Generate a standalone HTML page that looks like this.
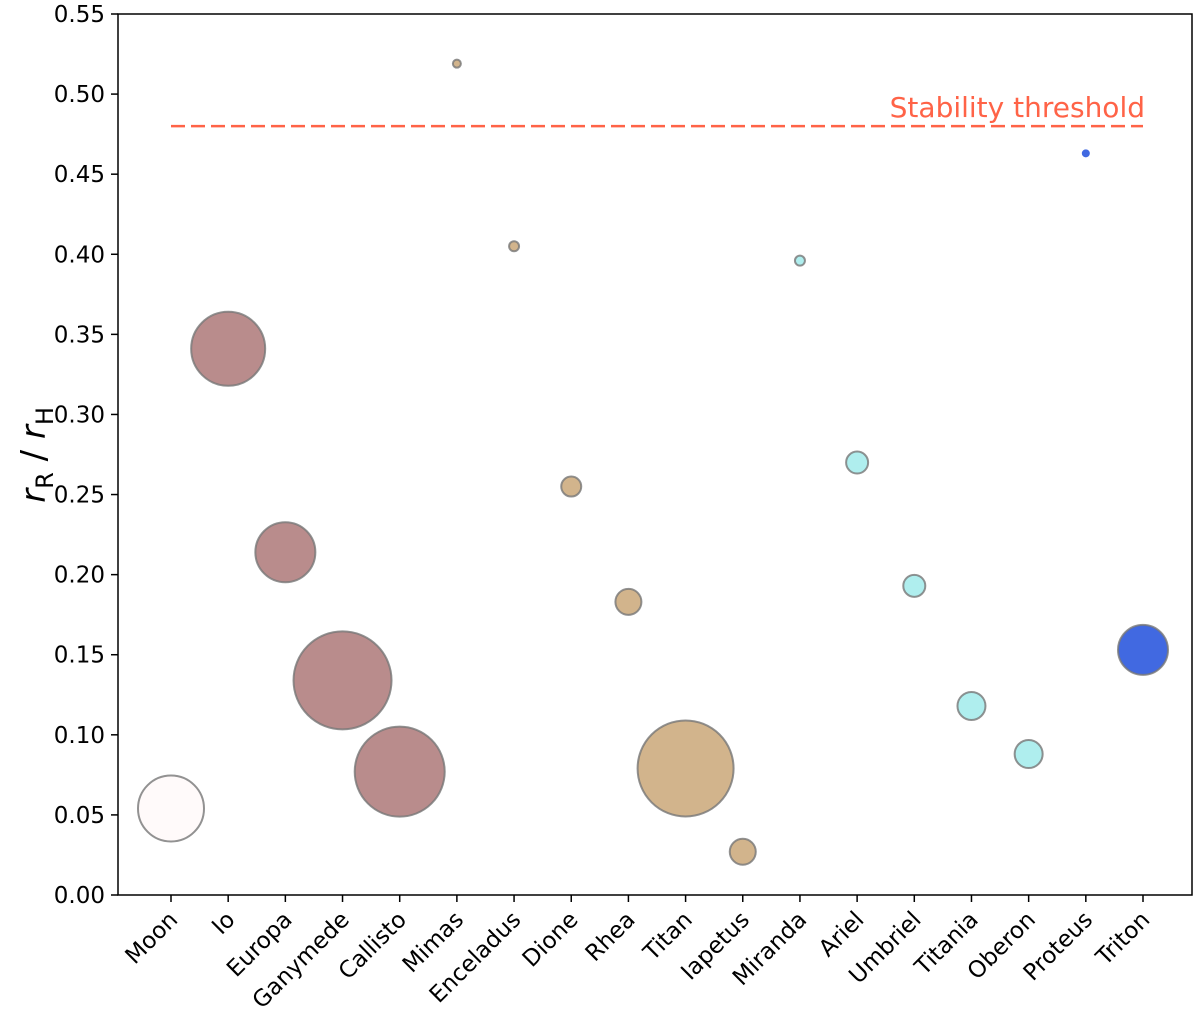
<!DOCTYPE html>
<html><head><meta charset="utf-8"><style>
body{margin:0;background:#fff;}
svg{display:block;font-family:"DejaVu Sans","Liberation Sans",sans-serif;}
</style></head><body>
<svg id="chart" width="1200" height="1020" viewBox="0 0 1200 1020" xmlns="http://www.w3.org/2000/svg"></svg>
<script>
const categories=["Moon","Io","Europa","Ganymede","Callisto","Mimas","Enceladus","Dione","Rhea","Titan","Iapetus","Miranda","Ariel","Umbriel","Titania","Oberon","Proteus","Triton"];
const ratios=[0.054,0.341,0.214,0.134,0.077,0.519,0.405,0.255,0.183,0.079,0.027,0.396,0.270,0.193,0.118,0.088,0.463,0.153];
const sizes=[33,37,30,49,45,4,5,10,13,48,13,5,11,11,14,14,4,25];
const groups=["earth","jupiter","jupiter","jupiter","jupiter","saturn","saturn","saturn","saturn","saturn","saturn","uranus","uranus","uranus","uranus","uranus","neptune","neptune"];
const yTicks=[0,0.05,0.1,0.15,0.2,0.25,0.3,0.35,0.4,0.45,0.5,0.55];
const threshold=0.48;
const colors={earth:"#fffafa",jupiter:"#b98c8c",saturn:"#d2b48c",uranus:"#afeeee",neptune:"#4169e1"};
const L=118,R=1192,T=14,B=895;
const x=i=>171+i*(1143-171)/(categories.length-1);
const y=v=>B-(v-0)/(0.55-0)*(B-T);
const svg=document.getElementById('chart');
const NS="http://www.w3.org/2000/svg";
function mk(t,a,p){const e=document.createElementNS(NS,t);for(const k in a)e.setAttribute(k,a[k]);(p||svg).appendChild(e);return e;}
const frame=mk('rect',{x:L,y:T,width:R-L,height:B-T,fill:'none',stroke:'#000','stroke-width':1.5});


yTicks.forEach(v=>{
  const t=mk('line',{x1:L-7,x2:L,y1:y(v),y2:y(v),stroke:'#000','stroke-width':1.5});
  
  
  const l=mk('text',{x:L-13,y:y(v)+8,'text-anchor':'end','font-size':23});
  l.textContent=v.toFixed(2);
  
  
});
categories.forEach((c,i)=>{
  const t=mk('line',{x1:x(i),x2:x(i),y1:B,y2:B+7,stroke:'#000','stroke-width':1.5});
  
  
  const l=mk('text',{x:x(i)+8,y:B+26,'text-anchor':'end','font-size':23,transform:`rotate(-45 ${x(i)+8} ${B+26})`});
  l.textContent=c;
  
  
});
const th=mk('line',{x1:x(0),x2:x(categories.length-1),y1:y(threshold),y2:y(threshold),stroke:'#ff6347','stroke-width':2.5,'stroke-dasharray':'14 6'});


const tl=mk('text',{x:x(categories.length-1)+2,y:y(threshold)-9,'text-anchor':'end','font-size':28,fill:'#ff6347'});
tl.textContent='Stability threshold';


categories.forEach((c,i)=>{
  const small=sizes[i]<=4&&groups[i]==='neptune';
  const p=mk('circle',{cx:x(i),cy:y(ratios[i]),r:sizes[i],fill:colors[groups[i]],stroke:small?'none':'#777','stroke-opacity':0.8,'stroke-width':2});
  
  
});
const yl=mk('text',{x:0,y:0,'font-size':34,'text-anchor':'middle',transform:'translate(45 455) rotate(-90)'});
yl.innerHTML='<tspan font-style="italic">r</tspan><tspan font-size="24" dy="8">R</tspan><tspan dy="-8"> / </tspan><tspan font-style="italic">r</tspan><tspan font-size="24" dy="8">H</tspan>';


</script>
</body></html>
